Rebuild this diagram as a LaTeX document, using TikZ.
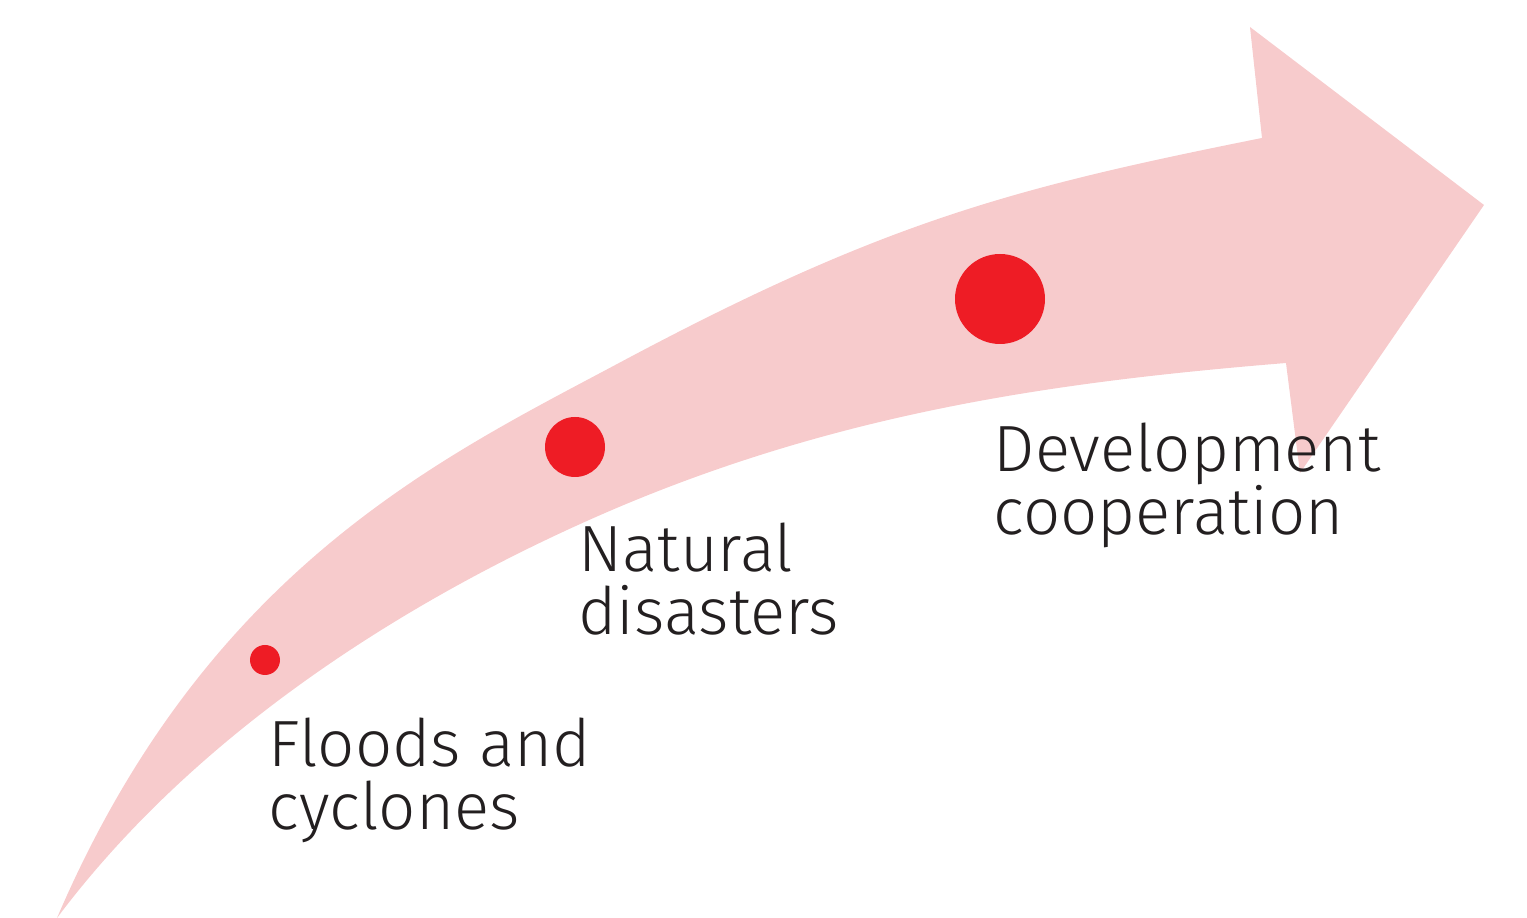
\documentclass[tikz,border=0pt]{standalone}
\usepackage{fontspec}
\setmainfont{Fira Sans}[UprightFont={* Light}]
\definecolor{arrowpink}{HTML}{F7CBCC}
\definecolor{dotred}{HTML}{EE1C25}
\definecolor{textgray}{HTML}{231F20}
\tikzset{
  dot/.style={circle, fill=dotred, inner sep=0pt},
  stagetext/.style={anchor=north west, inner sep=0pt, align=left, text=textgray,
    font=\fontsize{18.6}{17.9}\selectfont}
}
\begin{document}
\begin{tikzpicture}[x=0.1mm, y=-0.1mm]
  \useasboundingbox (0,0) rectangle (1527,918);
  % curved arrow
  \coordinate (tail) at (57,918);
  \fill[arrowpink] (tail) .. controls (207,568) and (443,457) .. (619,363)
    .. controls (883,222) and (1012,188) .. (1262,138)
    -- (1250,27) -- (1484,205) -- (1300,473) -- (1286,363)
    .. controls (1066,381) and (849,410) .. (619,507)
    .. controls (435,585) and (207,718) .. (tail) -- cycle;
  % dots
  \node[dot, minimum size=3mm] (dotfloods) at (265,660) {};
  \node[dot, minimum size=6mm] (dotnatural) at (575,447) {};
  \node[dot, minimum size=9mm] (dotdevel) at (1000,299) {};
  % texts
  \node[stagetext] (floods) at (268,717) {Floods and\\cyclones};
  \node[stagetext] (natural) at (578,522) {Natural\\disasters};
  \node[stagetext] (devel) at (993,422) {Development\\cooperation};
\end{tikzpicture}
\end{document}
